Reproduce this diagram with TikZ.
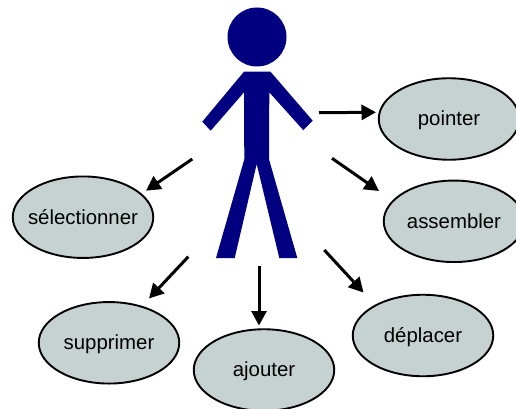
\documentclass[tikz,border=0pt]{standalone}
\usepackage{fontspec}
\setmainfont{Liberation Sans}
\usetikzlibrary{shapes.geometric,arrows.meta}
\definecolor{usecase}{HTML}{C5D2D1}
\definecolor{actor}{HTML}{000080}
\tikzset{
  usecasebox/.style={ellipse,draw=black,line width=1.9pt,fill=usecase,minimum width=140.5pt,minimum height=81.5pt,inner ysep=0pt,inner xsep=-25pt,
    font=\fontsize{20.4}{24}\selectfont,text height=14.5pt,text depth=0.8pt},
  flow/.style={line width=3pt,-{Triangle[length=14.5pt,width=15pt]}},
  actorfill/.style={fill=actor,draw=none}
}
\begin{document}
\begin{tikzpicture}[x=1pt,y=-1pt]
\clip (0,0) rectangle (516,409);
\useasboundingbox (0,0) rectangle (516,409);
% actor
\node[circle,actorfill,minimum size=59pt,inner sep=0pt] (head) at (257,37) {};
\fill[actor] (244,71.7) -- (270.5,71.7) -- (312.7,120.7) -- (303.3,130.2) -- (269.3,92.3) -- (269,159.3) -- (297.3,258) -- (279.3,258) -- (256.7,164) -- (234.7,258) -- (216,258) -- (244.3,159.3) -- (244,92.3) -- (210.7,130.7) -- (202.3,121.7) -- cycle;
% use cases
\node[usecasebox] (pointer) at (449,119) {pointer};
\node[usecasebox] (assembler) at (454,221.3) {assembler};
\node[usecasebox] (selectionner) at (83,217.2) {sélectionner};
\node[usecasebox] (supprimer) at (109,342.8) {supprimer};
\node[usecasebox] (ajouter) at (264,370) {ajouter};
\node[usecasebox] (deplacer) at (423,335.5) {déplacer};
% connector ends
\coordinate (s1) at (319,112.7); \coordinate (t1) at (376,112.3);
\coordinate (s2) at (332,158.3); \coordinate (t2) at (379,191);
\coordinate (s3) at (192.3,159); \coordinate (t3) at (146,190.7);
\coordinate (s4) at (188.3,256.7); \coordinate (t4) at (149,298.5);
\coordinate (s5) at (259,265.7); \coordinate (t5) at (259,325.5);
\coordinate (s6) at (324.3,250); \coordinate (t6) at (363.5,292.5);
\draw[flow] (s1) -- (t1);
\draw[flow] (s2) -- (t2);
\draw[flow] (s3) -- (t3);
\draw[flow] (s4) -- (t4);
\draw[flow] (s5) -- (t5);
\draw[flow] (s6) -- (t6);
\end{tikzpicture}
\end{document}
